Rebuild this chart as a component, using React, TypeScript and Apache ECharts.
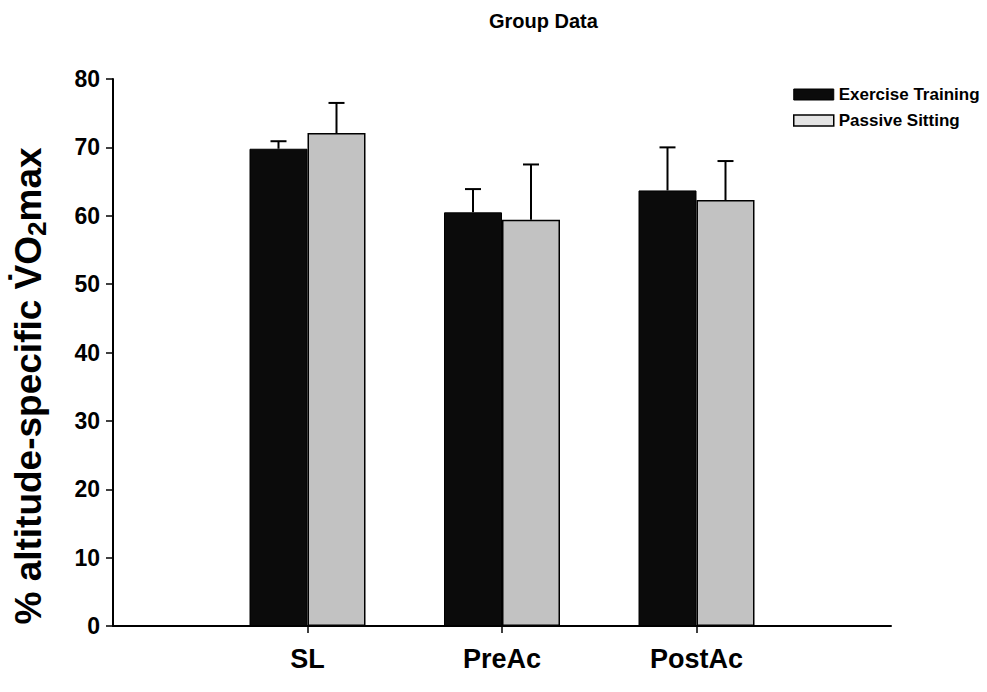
import React, { useEffect, useRef } from "react";
import * as echarts from "echarts";

const categories = ["SL", "PreAc", "PostAc"];
const categoryPositions = [1, 2, 3];
const seriesNames = ["Exercise Training", "Passive Sitting"];
const exerciseMean = [69.8, 60.5, 63.7];
const exerciseErr = [1.1, 3.4, 6.3];
const passiveMean = [72.1, 59.4, 62.3];
const passiveErr = [4.4, 8.1, 5.7];
const yMin = 0;
const yMax = 80;
const yInterval = 10;

const FONT = "'Liberation Sans', Arial, Helvetica, sans-serif";

export default function App() {
  const ref = useRef<HTMLDivElement>(null);

  useEffect(() => {
    if (!ref.current) return;
    const chart = echarts.init(ref.current, undefined, { renderer: "svg" });

    const exerciseData = categoryPositions.map((x, i) => [x, exerciseMean[i]]);
    const passiveData = categoryPositions.map((x, i) => [x, passiveMean[i]]);
    const errData = [
      ...categoryPositions.map((x, i) => [x, exerciseMean[i], exerciseErr[i], -1]),
      ...categoryPositions.map((x, i) => [x, passiveMean[i], passiveErr[i], 1]),
    ];

    const option: any = {
      animation: false,
      backgroundColor: "#ffffff",
      textStyle: { fontFamily: FONT },
      title: {
        text: "Group Data",
        left: 484,
        top: 6,
        textStyle: { fontFamily: FONT, fontWeight: "bold", fontSize: 20, color: "#000" },
      },
      legend: {
        orient: "vertical",
        left: 788,
        top: 81,
        itemWidth: 40,
        itemHeight: 11,
        itemGap: 9,
        icon: "rect",
        data: [
          { name: seriesNames[0], itemStyle: { color: "#0b0b0b", borderColor: "#000", borderWidth: 1 } },
          { name: seriesNames[1], itemStyle: { color: "#e4e4e4", borderColor: "#000", borderWidth: 1.5 } },
        ],
        textStyle: { fontFamily: FONT, fontWeight: "bold", fontSize: 17, color: "#000" },
      },
      grid: { left: 113, right: 96, top: 79, bottom: 66 },
      xAxis: {
        type: "value",
        min: 0,
        max: 4,
        interval: 1,
        splitLine: { show: false },
        axisLine: { show: true, lineStyle: { color: "#000", width: 2 } },
        axisTick: {
          show: true,
          inside: false,
          length: 7,
          customValues: categoryPositions,
          lineStyle: { color: "#000", width: 1.5 },
        },
        axisLabel: {
          customValues: categoryPositions,
          formatter: (v: number) => categories[Math.round(v) - 1] ?? "",
          fontFamily: FONT,
          fontWeight: "bold",
          fontSize: 27,
          color: "#000",
          margin: 19,
        },
      },
      yAxis: {
        type: "value",
        min: yMin,
        max: yMax,
        interval: yInterval,
        splitLine: { show: false },
        axisLine: { show: true, lineStyle: { color: "#000", width: 2 } },
        axisTick: { show: true, inside: false, length: 7, lineStyle: { color: "#000", width: 1.5 } },
        axisLabel: {
          fontFamily: FONT,
          fontWeight: "bold",
          fontSize: 23,
          color: "#000",
          margin: 13,
        },
      },
      graphic: [
        {
          type: "text",
          x: 28,
          y: 386,
          rotation: Math.PI / 2,
          style: {
            text: "{a|% altitude-specific V̇O}{s|2}{a|max}",
            align: "center",
            verticalAlign: "middle",
            rich: {
              a: { fontFamily: FONT, fontWeight: "bold", fontSize: 37, fill: "#000", lineHeight: 44, verticalAlign: "middle" },
              s: { fontFamily: FONT, fontWeight: "bold", fontSize: 26, fill: "#000", lineHeight: 44, padding: [18, 0, 0, 0] },
            },
          },
        },
      ],
      series: [
        {
          name: seriesNames[0],
          type: "bar",
          barWidth: 58,
          barGap: "0%",
          data: exerciseData,
          itemStyle: { color: "#0b0b0b", borderColor: "#000", borderWidth: 1 },
        },
        {
          name: seriesNames[1],
          type: "bar",
          barWidth: 58,
          barGap: "0%",
          data: passiveData,
          itemStyle: { color: "#c2c2c2", borderColor: "#000", borderWidth: 1.5 },
        },
        {
          type: "custom",
          name: "err",
          silent: true,
          z: 3,
          data: errData,
          encode: { x: 0, y: 1 },
          renderItem: (params: any, api: any) => {
            const x = api.value(0);
            const m = api.value(1);
            const e = api.value(2);
            const side = api.value(3);
            const base = api.coord([x, m]);
            const top = api.coord([x, m + e]);
            const cx = base[0] + side * 29;
            return {
              type: "group",
              children: [
                { type: "line", shape: { x1: cx, y1: base[1], x2: cx, y2: top[1] }, style: { stroke: "#000", lineWidth: 2 } },
                { type: "line", shape: { x1: cx - 8, y1: top[1], x2: cx + 8, y2: top[1] }, style: { stroke: "#000", lineWidth: 2 } },
              ],
            };
          },
        },
      ],
    };

    chart.setOption(option);
    return () => chart.dispose();
  }, []);

  return <div ref={ref} style={{ width: 987, height: 692, position: "absolute", left: 0, top: 0, background: "#fff" }} />;
}
